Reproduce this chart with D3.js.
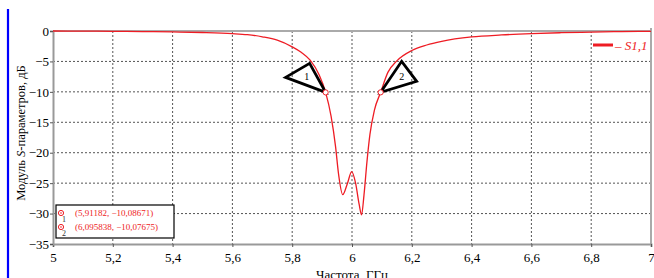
<!DOCTYPE html>
<html>
<head>
<meta charset="utf-8">
<script src="https://cdn.jsdelivr.net/npm/d3@7"></script>
<style>
body{margin:0;background:#fff;}
text{font-family:"Liberation Serif","DejaVu Serif",serif;}
</style>
</head>
<body>
<script>
// S11 readings (GHz, dB)
var freq = [5, 5.1, 5.2, 5.3, 5.4, 5.5, 5.6, 5.65, 5.7, 5.75, 5.8, 5.83, 5.86, 5.89, 5.91182,
            5.93, 5.945, 5.955, 5.969, 5.985, 5.999, 6.012, 6.024, 6.032, 6.04, 6.05, 6.06, 6.075,
            6.095838, 6.12, 6.15, 6.2, 6.25, 6.3, 6.4, 6.5, 6.6, 6.7, 6.8, 6.9, 7];
var s11 = [0, -0.02, -0.05, -0.09, -0.15, -0.25, -0.43, -0.6, -0.95, -1.5, -2.6, -3.5, -4.8, -7.2, -10.08671,
           -14, -19, -23.5, -26.9, -25, -23.1, -25, -28.5, -30.2, -27, -21.5, -17, -13,
           -10.07675, -6.8, -4.9, -3.2, -2.3, -1.7, -0.98, -0.65, -0.43, -0.28, -0.18, -0.1, -0.05];

var markerX = [5.91182, 6.095838];
var markerY = [-10.08671, -10.07675];
var markerText = ["(5,91182, \u221210,08671)", "(6,095838, \u221210,07675)"];

var xTicks = [5, 5.2, 5.4, 5.6, 5.8, 6, 6.2, 6.4, 6.6, 6.8, 7];
var yTicks = [0, -5, -10, -15, -20, -25, -30, -35];

var W = 654, H = 278;
var pL = 53, pR = 651, pT = 31, pB = 244;

var loc = d3.formatLocale({decimal: ",", thousands: " ", grouping: [3], currency: ["", ""], minus: "\u2212"});

var svg = d3.select("body").append("svg")
  .attr("width", W)
  .attr("height", H);

var x = d3.scaleLinear().domain([5, 7]).range([pL, pR]);
var y = d3.scaleLinear().domain([0, -35]).range([pT, pB]);

// blue bar on the far left
svg.append("line")
  .attr("x1", 8).attr("x2", 8).attr("y1", 9).attr("y2", H)
  .attr("stroke", "#0000ff").attr("stroke-width", 2.2);

// grid
svg.append("g").selectAll("line").data(xTicks.slice(1, -1)).enter().append("line")
  .attr("x1", function(d){return x(d);}).attr("x2", function(d){return x(d);})
  .attr("y1", pT).attr("y2", pB)
  .attr("stroke", "#555").attr("stroke-dasharray", "2,2").attr("stroke-width", 1);
svg.append("g").selectAll("line").data(yTicks.slice(1, -1)).enter().append("line")
  .attr("x1", pL).attr("x2", pR)
  .attr("y1", function(d){return y(d);}).attr("y2", function(d){return y(d);})
  .attr("stroke", "#555").attr("stroke-dasharray", "2,2").attr("stroke-width", 1);

// frame
svg.append("line").attr("x1", pL).attr("x2", pR).attr("y1", pT).attr("y2", pT)
  .attr("stroke", "#aaa").attr("stroke-width", 2);
svg.append("line").attr("x1", pR).attr("x2", pR).attr("y1", pT - 3).attr("y2", pB)
  .attr("stroke", "#aaa").attr("stroke-width", 2);

var xAxis = svg.append("g").attr("transform", "translate(0," + pB + ")")
  .call(d3.axisBottom(x).tickValues(xTicks).tickSize(3).tickFormat(loc.format(".1~f")));
var yAxis = svg.append("g").attr("transform", "translate(" + pL + ",0)")
  .call(d3.axisLeft(y).tickValues(yTicks).tickSize(3).tickFormat(loc.format("d")));

[xAxis, yAxis].forEach(function(a){
  a.select(".domain").attr("stroke", "#999").attr("stroke-width", 2);
  a.selectAll(".tick line").attr("stroke", "#555");
  a.selectAll(".tick text").attr("font-size", 13).attr("fill", "#000")
    .style("font-family", "Liberation Serif, serif");
});
xAxis.selectAll(".tick text").attr("dy", "0.71em").attr("y", 9);
yAxis.selectAll(".tick text").attr("x", -4);

// axis titles
svg.append("text").attr("x", 352).attr("y", 279).attr("text-anchor", "middle")
  .attr("font-size", 13).text("Частота, ГГц");

var yl = svg.append("text").attr("transform", "translate(25,133) rotate(-90)")
  .attr("text-anchor", "middle").attr("font-size", 12.5);
yl.append("tspan").text("Модуль ");
yl.append("tspan").attr("font-style", "italic").text("S");
yl.append("tspan").text("-параметров, дБ");

// curve
var pts = freq.map(function(f, i){return [f, s11[i]];});
var line = d3.line()
  .x(function(d){return x(d[0]);})
  .y(function(d){return y(d[1]);})
  .curve(d3.curveMonotoneX);

svg.append("path").datum(pts)
  .attr("d", line)
  .attr("fill", "none").attr("stroke", "#ee1c24").attr("stroke-width", 1.3);

// marker triangles (offsets from marker point)
var tri = [
  [[-40, -15], [-16, -29], [0, 0]],
  [[0, 0], [21, -31], [36, -11]]
];
var triLabel = [[-19, -16], [21, -16]];

markerX.forEach(function(mx, i){
  var px = x(mx), py = y(markerY[i]);
  svg.append("polygon")
    .attr("points", tri[i].map(function(p){return (px + p[0]) + "," + (py + p[1]);}).join(" "))
    .attr("fill", "none").attr("stroke", "#000").attr("stroke-width", 2.8)
    .attr("stroke-linejoin", "miter");
  svg.append("text").attr("x", px + triLabel[i][0]).attr("y", py + triLabel[i][1] + 4)
    .attr("text-anchor", "middle").attr("font-size", 10).text(i + 1);
  svg.append("circle").attr("cx", px).attr("cy", py).attr("r", 2.6)
    .attr("fill", "#fff").attr("stroke", "#ee1c24").attr("stroke-width", 1);
});

// legend
svg.append("line").attr("x1", 593).attr("x2", 613).attr("y1", 45).attr("y2", 45)
  .attr("stroke", "#ee1c24").attr("stroke-width", 3);
var lg = svg.append("text").attr("x", 615).attr("y", 50).attr("font-size", 13).attr("fill", "#ee1c24");
lg.append("tspan").text("\u2013 ");
lg.append("tspan").attr("font-style", "italic").text("S1,1");

// marker readout box
var box = svg.append("g");
box.append("rect").attr("x", 56).attr("y", 205).attr("width", 118).attr("height", 33)
  .attr("fill", "#fff").attr("stroke", "#000").attr("stroke-width", 1.2);
markerText.forEach(function(t, i){
  var yy = 213 + i * 14;
  box.append("circle").attr("cx", 61).attr("cy", yy).attr("r", 2.6)
    .attr("fill", "#fff").attr("stroke", "#ee1c24").attr("stroke-width", 1);
  box.append("circle").attr("cx", 61).attr("cy", yy).attr("r", 0.8).attr("fill", "#ee1c24");
  box.append("text").attr("x", 62).attr("y", yy + 9).attr("font-size", 8).attr("fill", "#333").text(i + 1);
  box.append("text").attr("x", 75).attr("y", yy + 3).attr("font-size", 9).attr("fill", "#ee1c24").text(t);
});
</script>
</body>
</html>
